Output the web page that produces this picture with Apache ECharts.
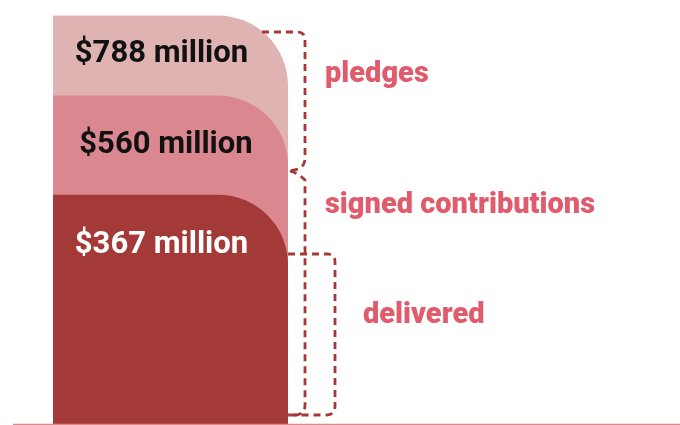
<!DOCTYPE html>
<html>
<head>
<meta charset="utf-8">
<script src="https://cdn.jsdelivr.net/npm/echarts@6/dist/echarts.min.js"></script>
<style>
html,body{margin:0;padding:0;background:#fff;}
#chart{width:680px;height:425px;}
</style>
</head>
<body>
<div id="chart"></div>
<script>
// ---- data ----
const categories = ['Funding'];
const stageNames = ['pledges', 'signed contributions', 'delivered'];
const stageValues = [788, 560, 367]; // $ million

// ---- styles ----
const barColors = ['#e0b3b3', '#db8790', '#a33a37'];
const labelColors = ['#111111', '#111111', '#ffffff'];
const labelPos = [[108.5, 38.5], [113, 49.5], [108.5, 50.5]];
const accent = '#e05c6c';
const dash = '#a33a37';

const chart = echarts.init(document.getElementById('chart'), null, {renderer: 'canvas'});

const series = stageValues.map((v, i) => ({
  type: 'bar',
  name: stageNames[i],
  data: [v],
  barWidth: '100%',
  barGap: '-100%',
  clip: true,
  silent: true,
  z: 2 + i,
  itemStyle: {color: barColors[i], borderRadius: [0, 70, 0, 0]},
  label: {
    show: true,
    position: labelPos[i],
    align: 'center',
    verticalAlign: 'middle',
    formatter: p => '$' + p.value + ' million',
    fontFamily: 'Roboto',
    fontWeight: 'bold',
    fontSize: 31,
    color: labelColors[i]
  }
}));

// build a polyline from segments: ['L', x, y] or ['Q', cx, cy, x, y]
function pathPoints(start, segs) {
  const pts = [start.slice()];
  let cur = start.slice();
  segs.forEach(s => {
    if (s[0] === 'L') { cur = [s[1], s[2]]; pts.push(cur); }
    else {
      const c = [s[1], s[2]], e = [s[3], s[4]];
      for (let k = 1; k <= 8; k++) {
        const t = k / 8, u = 1 - t;
        pts.push([u*u*cur[0] + 2*u*t*c[0] + t*t*e[0], u*u*cur[1] + 2*u*t*c[1] + t*t*e[1]]);
      }
      cur = e;
    }
  });
  return pts;
}
const dashStyle = {stroke: dash, lineWidth: 2.8, lineDash: [7, 5], fill: null};
const b1 = pathPoints([262, 32], [['L', 297, 32], ['Q', 305, 32, 305, 40], ['L', 305, 158], ['Q', 305, 166, 298, 169], ['L', 290, 171]]);
const b2 = pathPoints([290, 171], [['Q', 298, 173, 305, 180], ['L', 305, 405], ['Q', 305, 414, 296, 415], ['L', 288, 415]]);
const b3 = pathPoints([288, 254], [['L', 327, 254], ['Q', 335, 254, 335, 262], ['L', 335, 406], ['Q', 335, 415, 326, 415], ['L', 288, 415]]);
const sideFont = '900 29px Roboto';

chart.setOption({
  animation: false,
  backgroundColor: '#ffffff',
  grid: {left: 53, width: 235, top: 12, bottom: 1, containLabel: false},
  xAxis: {type: 'category', data: categories, show: false},
  yAxis: {type: 'log', min: 138, max: 800, show: false},
  series: series,
  graphic: [
    {type: 'line', z: 100, shape: {x1: 13, y1: 424.5, x2: 680, y2: 424.5}, style: {stroke: '#d98a8a', lineWidth: 1.5}},
    {type: 'polyline', z: 100, shape: {points: b1}, style: dashStyle},
    {type: 'polyline', z: 100, shape: {points: b2}, style: dashStyle},
    {type: 'polyline', z: 100, shape: {points: b3}, style: dashStyle},
    {type: 'text', z: 100, x: 325, y: 75, style: {text: stageNames[0], fill: accent, font: sideFont, verticalAlign: 'middle'}},
    {type: 'text', z: 100, x: 325, y: 206, style: {text: stageNames[1], fill: accent, font: sideFont, verticalAlign: 'middle'}},
    {type: 'text', z: 100, x: 363, y: 316, style: {text: stageNames[2], fill: accent, font: sideFont, verticalAlign: 'middle'}}
  ]
});
</script>
</body>
</html>
